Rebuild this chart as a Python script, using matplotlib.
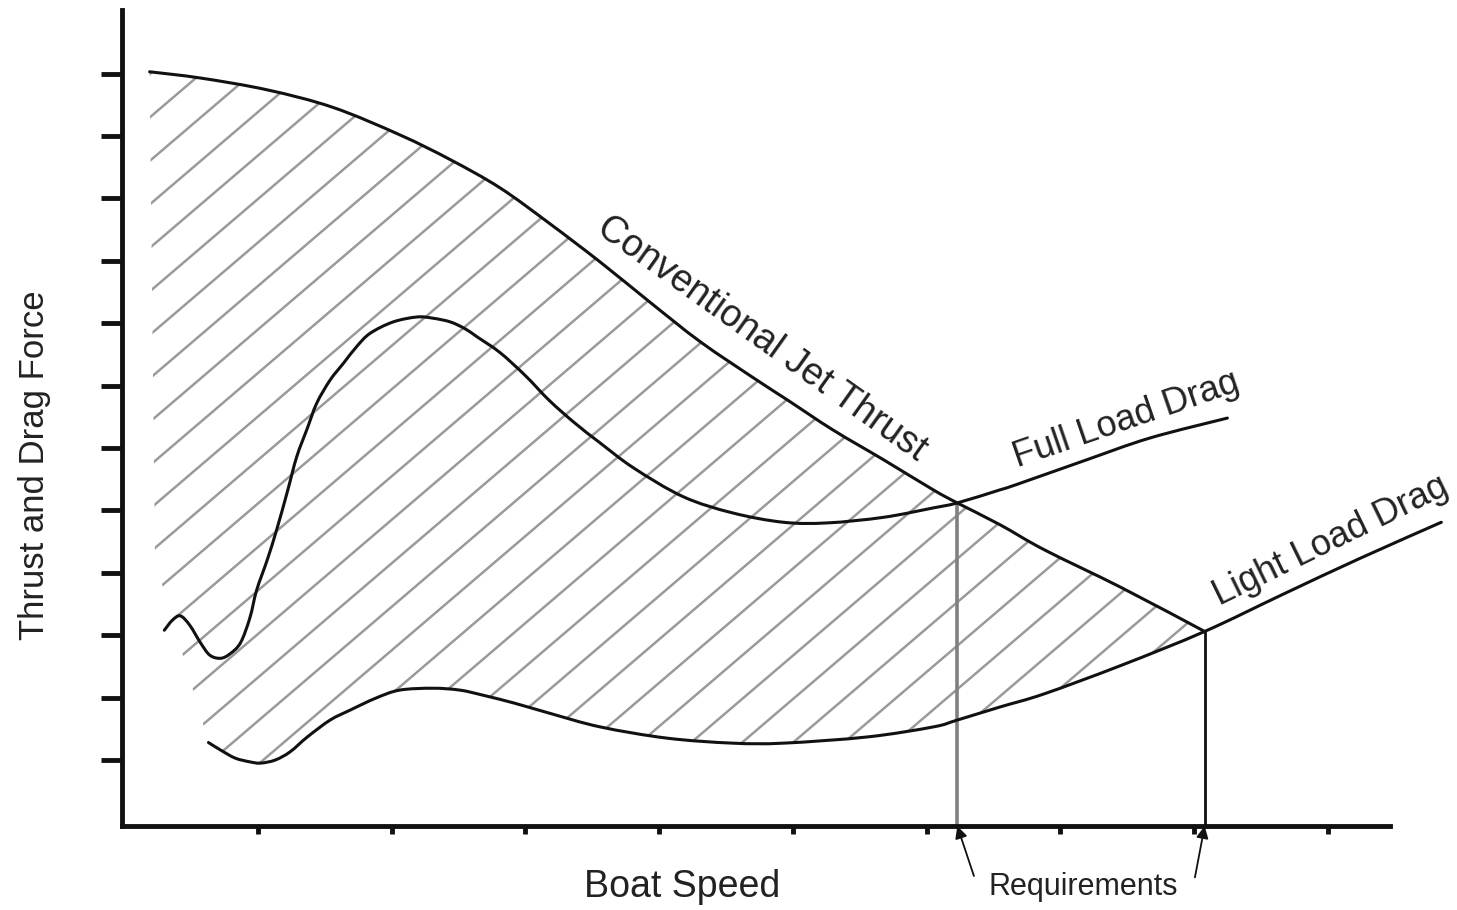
import numpy as np
import matplotlib.pyplot as plt
from matplotlib.path import Path
from matplotlib.patches import PathPatch
from matplotlib.collections import LineCollection

plt.rcParams['font.family'] = ['Liberation Sans', 'DejaVu Sans']

# values in tick units (x: boat speed, y: thrust / drag force)
thrust_x = [0.19, 0.57, 1.07, 1.56, 2.06, 2.44, 2.81, 3.18, 3.56, 3.93, 4.31,
            4.73, 4.96, 5.30, 5.68, 6.05, 6.23, 6.55, 6.88, 7.46, 8.08]
thrust_y = [12.03, 11.93, 11.74, 11.46, 11.02, 10.62, 10.17, 9.60, 8.98, 8.34, 7.70,
            7.09, 6.77, 6.29, 5.81, 5.33, 5.12, 4.77, 4.37, 3.76, 3.06]

full_x = [0.30, 0.36, 0.42, 0.49, 0.57, 0.64, 0.72, 0.79, 0.87, 0.94, 0.99, 1.07,
          1.14, 1.22, 1.29, 1.37, 1.44, 1.54, 1.64, 1.74, 1.84, 2.01, 2.19, 2.31,
          2.44, 2.55, 2.64, 2.81, 3.00, 3.18, 3.37, 3.56, 3.81, 4.18, 4.55, 4.93,
          5.26, 5.68, 6.05, 6.23, 6.55, 6.68, 7.17, 7.67, 8.25]
full_y = [3.08, 3.24, 3.31, 3.16, 2.88, 2.68, 2.63, 2.70, 2.88, 3.28, 3.72, 4.21,
          4.69, 5.30, 5.86, 6.32, 6.72, 7.09, 7.36, 7.63, 7.84, 8.02, 8.10, 8.08,
          8.02, 7.91, 7.78, 7.53, 7.16, 6.76, 6.40, 6.08, 5.68, 5.22, 4.96, 4.81,
          4.80, 4.89, 5.04, 5.12, 5.33, 5.42, 5.79, 6.16, 6.48]

light_x = [0.63, 0.72, 0.83, 0.94, 1.02, 1.13, 1.24, 1.37, 1.54, 1.69, 1.88, 2.06,
           2.31, 2.51, 2.68, 2.92, 3.18, 3.56, 4.06, 4.55, 4.93, 5.56, 6.05, 6.23,
           6.55, 6.88, 7.46, 8.08, 8.67, 9.24, 9.85]
light_y = [1.28, 1.16, 1.03, 0.97, 0.95, 1.00, 1.13, 1.37, 1.64, 1.80, 1.99, 2.12,
           2.15, 2.12, 2.04, 1.91, 1.75, 1.53, 1.35, 1.27, 1.27, 1.37, 1.53, 1.64,
           1.85, 2.06, 2.52, 3.06, 3.66, 4.23, 4.81]

# speed requirements (thrust meets full / light load drag)
req_x = [6.23, 8.08]
req_y = [5.12, 3.06]

# left edge of the hatched area bends down to the light load curve here
hatch_corner = (0.23, 4.20)

xticks = list(range(1, 10))
yticks = list(range(1, 13))


def smooth_path(xs, ys, start=Path.MOVETO):
    # catmull-rom through the points, as cubic bezier segments
    p = np.column_stack([xs, ys]).astype(float)
    ext = np.vstack([p[0], p, p[-1]])
    verts = [p[0]]
    codes = [start]
    for i in range(len(p) - 1):
        a, b, c, d = ext[i], ext[i + 1], ext[i + 2], ext[i + 3]
        verts += [b + (c - a) / 6.0, c - (d - b) / 6.0, c]
        codes += [Path.CURVE4] * 3
    return verts, codes


fig = plt.figure(figsize=(14.57, 9.10), dpi=100)
ax = fig.add_axes([0.0837, 0.0923, 0.8703, 0.8967])
xlim = (-0.017, 9.466)
ylim = (-0.058, 13.02)
ax.set_xlim(*xlim)
ax.set_ylim(*ylim)
ax.autoscale(False)

# hatched area between thrust and light load drag
lx = np.array(light_x)
ly = np.array(light_y)
keep = lx <= req_x[1] + 1e-6
v1, c1 = smooth_path(thrust_x, thrust_y)
v2, c2 = smooth_path(lx[keep][::-1], ly[keep][::-1], start=Path.LINETO)
verts = v1 + v2 + [np.array(hatch_corner), np.array(hatch_corner)]
codes = c1 + c2 + [Path.LINETO, Path.CLOSEPOLY]
region = PathPatch(Path(verts, codes), fill=False, edgecolor='none')
ax.add_patch(region)

p0 = ax.transData.transform((0, 0))
p1 = ax.transData.transform((1, 1))
sx, sy = p1 - p0
slope = np.tan(np.radians(40.5)) * sx / sy
gap = 43.5 / sy
x_a, x_b = -0.5, 9.5
segs = []
for k in range(-45, 5):
    c = 11.37 + k * gap
    segs.append([(x_a, c + slope * (x_a - 0.23)), (x_b, c + slope * (x_b - 0.23))])
lc = LineCollection(segs, colors='#9a9a9a', linewidths=1.8)
lc.set_clip_path(region)
ax.add_collection(lc)

# curves
curve_kw = dict(fill=False, edgecolor='#111111', lw=2.2, joinstyle='round',
                capstyle='round', zorder=3)
for xs, ys, clip in [(thrust_x, thrust_y, True), (full_x, full_y, True),
                     (light_x, light_y, False)]:
    v, c = smooth_path(xs, ys)
    ax.add_patch(PathPatch(Path(v, c), clip_on=clip, **curve_kw))

# requirement markers
ax.plot([req_x[0], req_x[0]], [ylim[0], req_y[0]], color='#808080', lw=2.6, zorder=2)
ax.plot([req_x[1], req_x[1]], [ylim[0], req_y[1]], color='#111111', lw=2.0, zorder=2)

arrow_kw = dict(arrowstyle='-|>', color='#111111', lw=1.3, mutation_scale=18,
                shrinkA=0, shrinkB=0)
ax.annotate('', xy=(req_x[0], ylim[0]), xytext=(12, -36), textcoords='offset points',
            arrowprops=arrow_kw, annotation_clip=False)
ax.annotate('', xy=(req_x[1], ylim[0]), xytext=(-7, -37), textcoords='offset points',
            arrowprops=arrow_kw, annotation_clip=False)
ax.text(0.758, -0.075, 'Requirements', transform=ax.transAxes, ha='center', va='center',
        fontsize=22, color='#222222')

# curve labels
txt_kw = dict(ha='center', va='center', rotation_mode='anchor', color='#222222')
ax.text(4.77, 7.75, 'Conventional Jet Thrust', rotation=-35.5, fontsize=27, **txt_kw)
ax.text(7.49, 6.45, 'Full Load Drag', rotation=19, fontsize=26, **txt_kw)
ax.text(9.02, 4.51, 'Light Load Drag', rotation=26, fontsize=26, **txt_kw)

# axes styling
for side in ['top', 'right']:
    ax.spines[side].set_visible(False)
for side in ['left', 'bottom']:
    ax.spines[side].set_linewidth(3.5)
    ax.spines[side].set_color('#111111')
ax.set_xticks(xticks)
ax.set_yticks(yticks)
ax.tick_params(axis='y', direction='out', length=15, width=3.5, color='#111111', labelleft=False)
ax.tick_params(axis='x', direction='out', length=6, width=3.5, color='#111111', labelbottom=False)

ax.set_xlabel('Boat Speed', fontsize=27, color='#222222', va='center')
ax.xaxis.set_label_coords(0.442, -0.075)
ax.set_ylabel('Thrust and Drag Force', fontsize=25, color='#222222', va='center')
ax.yaxis.set_label_coords(-0.0686, 0.442)

fig.savefig('out.png', dpi=100)
